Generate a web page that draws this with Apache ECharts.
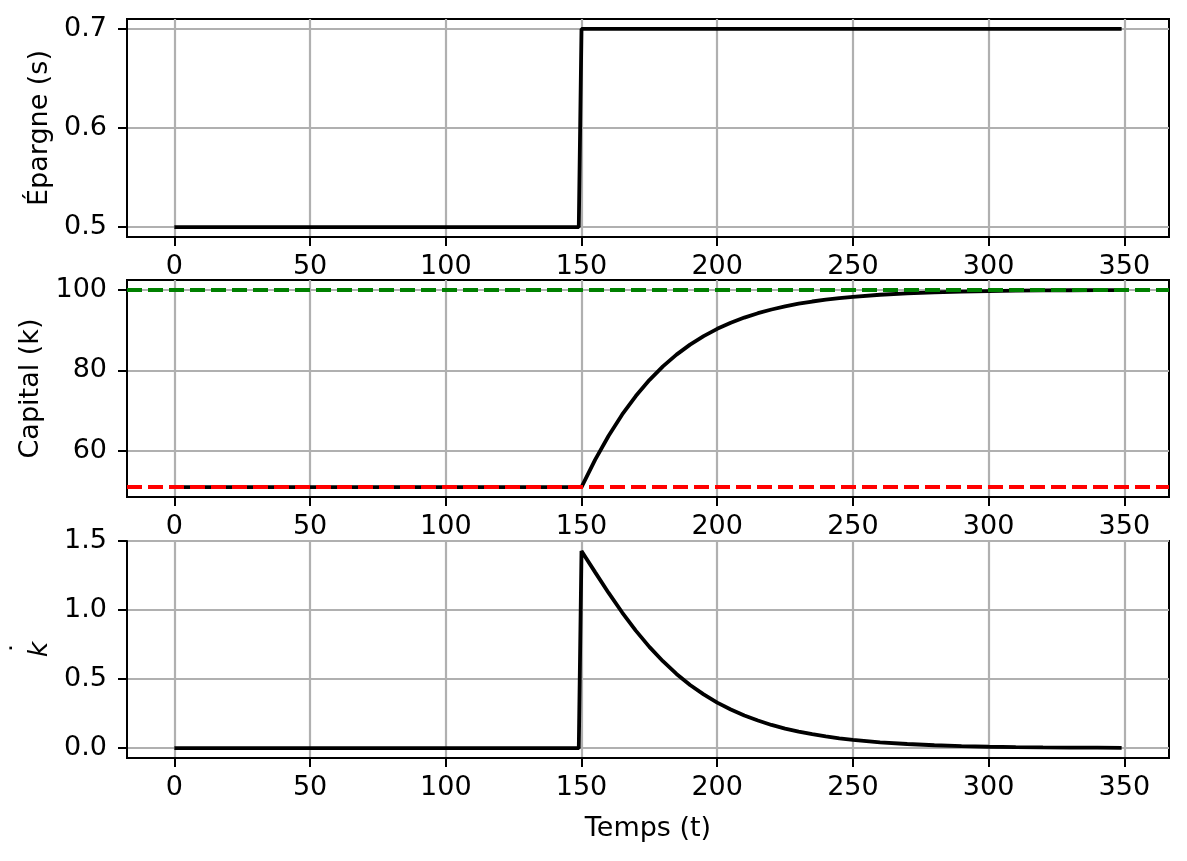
<!DOCTYPE html>
<html>
<head>
<meta charset="utf-8">
<script src="https://cdn.jsdelivr.net/npm/echarts@6/dist/echarts.min.js"></script>
<style>
html, body { margin: 0; padding: 0; background: #fff; }
#main { width: 1187px; height: 861px; }
</style>
</head>
<body>
<div id="main"></div>
<script>
// tick labels
const xTicks = [0, 50, 100, 150, 200, 250, 300, 350];
const sTicks = [0.5, 0.6, 0.7];
const kTicks = [60, 80, 100];
const dTicks = [0, 0.5, 1.0, 1.5];

// savings rate: step at t = 150
const tSaving = [0, 149, 150, 349];
const saving = [0.5, 0.5, 0.7, 0.7];

// capital per worker
const tCapital = [0, 150, 155, 160, 165, 170, 175, 180, 185, 190, 195, 200, 205, 210,
    215, 220, 225, 230, 235, 240, 245, 250, 260, 270, 280, 290, 300, 310, 320, 330, 340, 349];
const capital = [51.02, 51.02, 57.79, 63.79, 69.06, 73.63, 77.60, 81.00, 83.92, 86.41, 88.52,
    90.32, 91.84, 93.12, 94.21, 95.13, 95.90, 96.56, 97.11, 97.56, 97.95, 98.28,
    98.79, 99.14, 99.40, 99.57, 99.70, 99.79, 99.85, 99.90, 99.93, 99.95];

// old and new steady states
const kLow = 51.02;
const kHigh = 100;

// k dot
const tKdot = [0, 149, 150, 155, 160, 165, 170, 175, 180, 185, 190, 195, 200, 205, 210,
    215, 220, 225, 230, 235, 240, 245, 250, 260, 270, 280, 290, 300, 310, 320, 330, 340, 349];
const kdot = [0, 0, 1.429, 1.276, 1.125, 0.983, 0.852, 0.734, 0.630, 0.538, 0.458, 0.390,
    0.330, 0.280, 0.236, 0.200, 0.168, 0.142, 0.120, 0.101, 0.085, 0.071, 0.060,
    0.042, 0.030, 0.021, 0.015, 0.010, 0.007, 0.005, 0.004, 0.003, 0.002];

const font = 'DejaVu Sans';
const fs = 27;
const pair = (ts, vs) => ts.map((t, i) => [t, vs[i]]);

function xAxisFor(gridIndex, name) {
    return {
        type: 'value', gridIndex: gridIndex,
        min: -17.45, max: 366.45, splitNumber: 8,
        axisLine: { show: true, onZero: false, lineStyle: { color: '#000', width: 2 } },
        axisTick: { show: true, length: 9, customValues: xTicks, lineStyle: { color: '#000', width: 2 } },
        axisLabel: { customValues: xTicks, color: '#000', fontFamily: font, fontSize: fs, margin: 16 },
        splitLine: { show: true, lineStyle: { color: '#b0b0b0', width: 2.2 } },
        name: name, nameLocation: 'middle', nameGap: 57,
        nameTextStyle: { color: '#000', fontFamily: font, fontSize: fs }
    };
}

function yAxisFor(gridIndex, min, max, split, ticks, decimals, name, gap, rich) {
    return {
        type: 'value', gridIndex: gridIndex,
        min: min, max: max, splitNumber: split,
        axisLine: { show: true, onZero: false, lineStyle: { color: '#000', width: 2 } },
        axisTick: { show: true, length: 9, customValues: ticks, lineStyle: { color: '#000', width: 2 } },
        axisLabel: {
            customValues: ticks, color: '#000', fontFamily: font, fontSize: fs, margin: 20,
            formatter: v => v.toFixed(decimals)
        },
        splitLine: { show: true, lineStyle: { color: '#b0b0b0', width: 2.2 } },
        name: name, nameLocation: 'middle', nameGap: gap,
        nameTextStyle: { color: '#000', fontFamily: font, fontSize: fs, rich: rich }
    };
}

// mathtext style label: italic k with a dot above it
const kdotRich = {
    d: { fontFamily: font, fontSize: fs, lineHeight: 8, color: '#000', padding: [0, 0, 0, 3] },
    k: { fontFamily: font, fontSize: fs, fontStyle: 'italic', lineHeight: 26, color: '#000' }
};

const lineBase = {
    type: 'line', showSymbol: false, symbol: 'none', smooth: false,
    lineStyle: { color: '#000', width: 3.8 }, silent: true
};

let options = {
    animation: false,
    backgroundColor: '#fff',
    grid: [
        { left: 127, right: 18, top: 19, height: 218, show: true, borderColor: '#000', borderWidth: 2 },
        { left: 127, right: 18, top: 280, height: 217, show: true, borderColor: '#000', borderWidth: 2 },
        { left: 127, right: 18, top: 541, height: 217, show: true, borderColor: '#000', borderWidth: 2 }
    ],
    xAxis: [
        xAxisFor(0, ''),
        xAxisFor(1, ''),
        xAxisFor(2, 'Temps (t)')
    ],
    yAxis: [
        yAxisFor(0, 0.49, 0.71, 2, sTicks, 1, 'Épargne (s)', 72),
        yAxisFor(1, 48.57, 102.45, 3, kTicks, 0, 'Capital (k)', 80),
        yAxisFor(2, -0.0715, 1.5015, 3, dTicks, 1, '{d|\u02D9}\n{k|k}', 70, kdotRich)
    ],
    series: [
        Object.assign({}, lineBase, { xAxisIndex: 0, yAxisIndex: 0, data: pair(tSaving, saving) }),
        Object.assign({}, lineBase, {
            xAxisIndex: 1, yAxisIndex: 1, data: pair(tCapital, capital),
            markLine: {
                silent: true, symbol: 'none', label: { show: false },
                lineStyle: { type: [15, 6], width: 3.8 },
                data: [
                    { yAxis: kHigh, lineStyle: { color: '#008000', type: [15, 6], width: 3.8 } },
                    { yAxis: kLow, lineStyle: { color: '#ff0000', type: [15, 6], width: 3.8 } }
                ]
            }
        }),
        Object.assign({}, lineBase, { xAxisIndex: 2, yAxisIndex: 2, data: pair(tKdot, kdot) })
    ]
};

let myChart = echarts.init(document.getElementById('main'));
myChart.setOption(options);
</script>
</body>
</html>
